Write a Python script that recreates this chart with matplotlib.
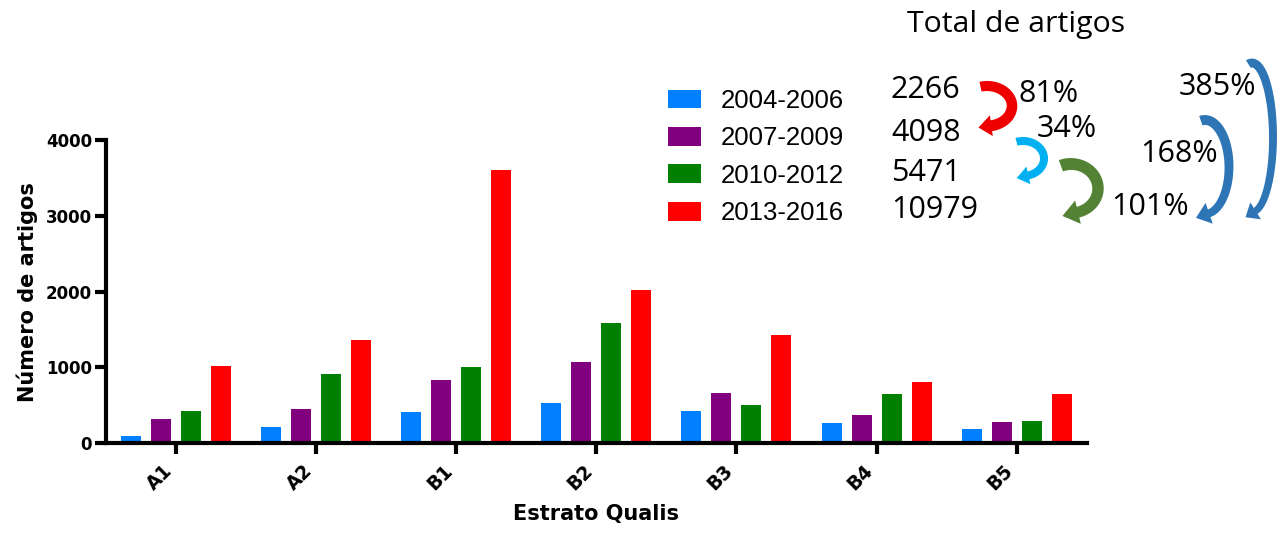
import numpy as np
import matplotlib
matplotlib.use("Agg")
import matplotlib.pyplot as plt
from matplotlib.patches import Polygon, Patch

strata = ["A1", "A2", "B1", "B2", "B3", "B4", "B5"]
periods = ["2004-2006", "2007-2009", "2010-2012", "2013-2016"]
colors = ["#0080FF", "#800080", "#008000", "#FF0000"]

p2004 = [96, 219, 417, 532, 430, 269, 194]
p2007 = [316, 452, 835, 1073, 660, 375, 282]
p2010 = [426, 918, 1003, 1583, 501, 652, 290]
p2013 = [1020, 1363, 3606, 2018, 1434, 810, 646]
series = [p2004, p2007, p2010, p2013]

totals = [2266, 4098, 5471, 10979]
growth = ["81%", "34%", "101%", "168%", "385%"]


def curved_arrow(ax, cx, cy, rx, ry, t0, t1, w0, w1, head_w, head_l, color):
    # half-ellipse band (pixel coords, y down) ending in a triangular head
    t = np.radians(np.linspace(t0, t1, 80))
    x = cx + rx * np.cos(t)
    y = cy + ry * np.sin(t)
    dx = -rx * np.sin(t)
    dy = ry * np.cos(t)
    n = np.hypot(dx, dy)
    ux, uy = dx / n, dy / n
    nx, ny = -uy, ux
    w = np.linspace(w0, w1, len(t)) / 2
    left = np.c_[x + nx * w, y + ny * w]
    right = np.c_[x - nx * w, y - ny * w]
    ex, ey = x[-1], y[-1]
    tip = (ex + ux[-1] * head_l, ey + uy[-1] * head_l)
    hb1 = (ex + nx[-1] * head_w / 2, ey + ny[-1] * head_w / 2)
    hb2 = (ex - nx[-1] * head_w / 2, ey - ny[-1] * head_w / 2)
    poly = np.vstack([left, hb1, tip, hb2, right[::-1]])
    ax.add_patch(Polygon(poly, closed=True, facecolor=color, edgecolor="none"))


fig = plt.figure(figsize=(12.81, 5.36), dpi=100)
ax = fig.add_axes([106 / 1281, 1 - 443.3 / 536, (1086.7 - 106) / 1281, (443.3 - 140) / 536])

x = np.arange(len(strata))
step = 0.214
width = 0.143
for i, (vals, c, lab) in enumerate(zip(series, colors, periods)):
    ax.bar(x + (i - 1.5) * step, vals, width, color=c, label=lab, zorder=2)

ax.set_xlim(-0.5, 6.5)
ax.set_ylim(0, 4000)
ax.set_yticks([0, 1000, 2000, 3000, 4000])
ax.set_xticks(x)
ax.set_xticklabels(strata, rotation=45, ha="right", fontweight="bold", fontsize=13.5)
for lbl in ax.get_yticklabels():
    lbl.set_fontweight("bold")
    lbl.set_fontsize(12)
for s in ["top", "right"]:
    ax.spines[s].set_visible(False)
for s in ["left", "bottom"]:
    ax.spines[s].set_linewidth(3)
    ax.spines[s].set_capstyle("projecting")
ax.tick_params(axis="both", width=3, length=8, pad=2)
ax.tick_params(axis="x", pad=5)
ax.set_ylabel("Número de artigos", fontsize=15, fontweight="bold", labelpad=6)
ax.set_xlabel("Estrato Qualis", fontsize=15, fontweight="bold", labelpad=7)

handles = [Patch(facecolor=c, label=p) for c, p in zip(colors, periods)]
fig.legend(handles=handles, loc="upper left", bbox_to_anchor=(668 / 1281, 1 - 89 / 536),
           frameon=False, prop=dict(family="Liberation Sans", size=18.5),
           handlelength=1.3, handleheight=0.75,
           handletextpad=0.75, labelspacing=0.52, borderpad=0, borderaxespad=0)

# overlay in pixel coordinates for the totals and growth arrows
ov = fig.add_axes([0, 0, 1, 1])
ov.set_xlim(0, 1281)
ov.set_ylim(536, 0)
ov.axis("off")

tfont = dict(family="Open Sans", fontsize=22, color="black", va="baseline")
ov.text(907, 31.7, "Total de artigos", family="Open Sans", fontsize=21.8, va="baseline")
for val, yb in zip(totals, [98, 141, 181, 218]):
    ov.text(891, yb, str(val), ha="left", **tfont)
for txt, xl, yb in zip(growth, [1019, 1037, 1111, 1140, 1179], [101.7, 136.7, 215, 161.7, 95]):
    ov.text(xl, yb, txt, ha="left", **tfont)

curved_arrow(ov, 987, 106, 25, 20, -105, 80, 10, 11, 21, 13, "#EE0000")
curved_arrow(ov, 1023, 158.5, 21, 17.5, -108, 75, 8, 8, 18, 12, "#00B0F0")
curved_arrow(ov, 1071, 188.5, 27, 24.5, -112, 75, 12, 11, 24, 16, "#548235")
curved_arrow(ov, 1205, 167, 24, 47, -100, 80, 10, 8, 22, 14, "#2E75B6")
curved_arrow(ov, 1252, 137.5, 21, 74.5, -100, 80, 9, 7, 20, 12, "#2E75B6")

fig.savefig("out.png", dpi=100)
